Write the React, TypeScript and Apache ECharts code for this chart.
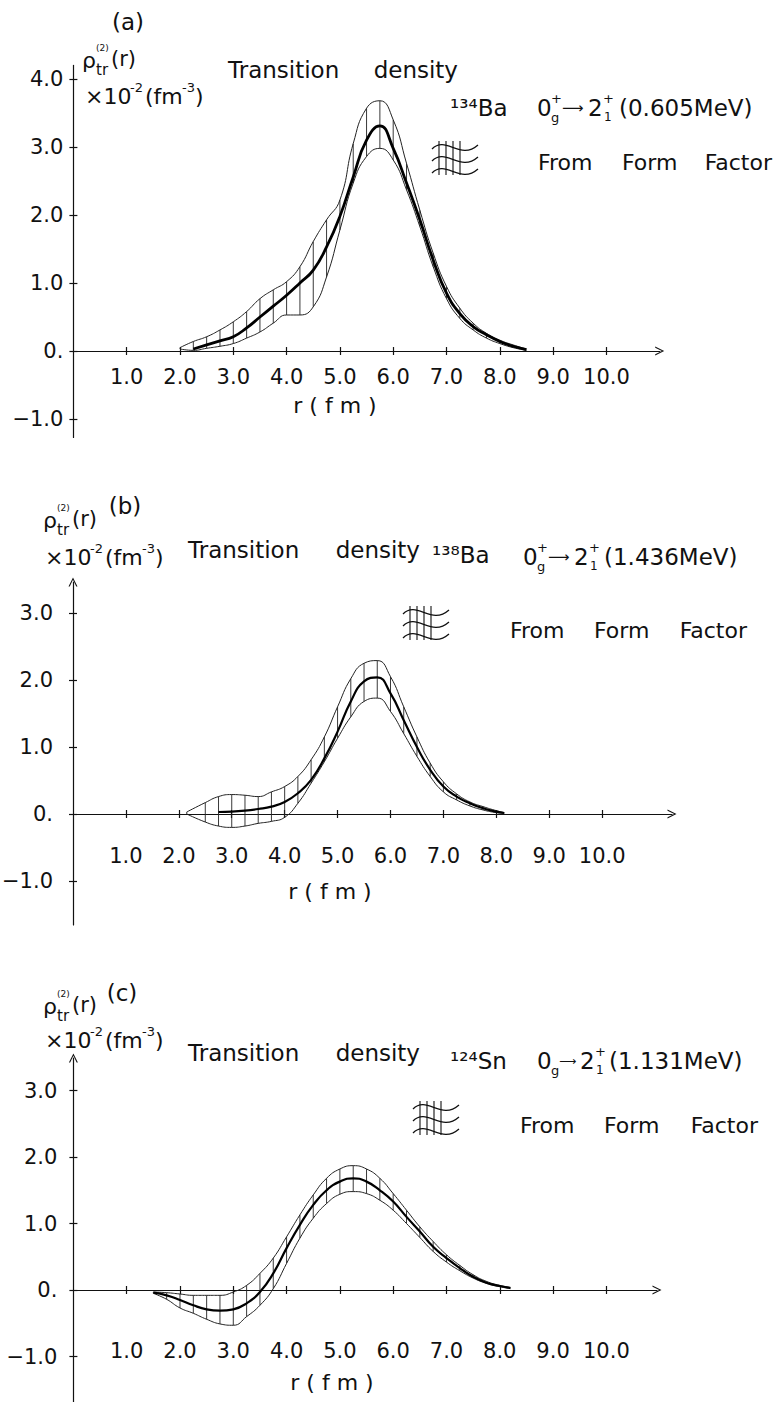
import React, { useEffect, useRef } from "react";
import * as echarts from "echarts";

// ---------- data (r in fm, rho in 10^-2 fm^-3) ----------
const X_TICKS = [1, 2, 3, 4, 5, 6, 7, 8, 9, 10];
const Y_TICKS_A = [-1, 0, 1, 2, 3, 4];
const Y_TICKS_BC = [-1, 0, 1, 2, 3];

// (a) 134Ba
const R_A = [2.0, 2.25, 2.5, 2.75, 3.0, 3.25, 3.5, 3.75, 4.0, 4.25, 4.5, 4.75, 5.0, 5.25, 5.5, 5.75, 6.0, 6.25, 6.5, 6.75, 7.0, 7.25, 7.5, 7.75, 8.0, 8.25, 8.5];
const A_UPPER = [0.05, 0.14, 0.21, 0.31, 0.43, 0.58, 0.77, 0.9, 1.02, 1.24, 1.61, 1.93, 2.22, 3.05, 3.57, 3.68, 3.4, 2.76, 2.07, 1.44, 0.95, 0.63, 0.41, 0.26, 0.16, 0.09, 0.03];
const A_CENTER = [null, 0.03, 0.09, 0.15, 0.21, 0.34, 0.5, 0.66, 0.82, 1.0, 1.19, 1.53, 1.98, 2.56, 3.1, 3.31, 2.98, 2.47, 1.93, 1.34, 0.85, 0.55, 0.36, 0.24, 0.14, 0.07, 0.02];
const A_LOWER = [0.03, 0.01, 0.04, 0.07, 0.11, 0.19, 0.28, 0.41, 0.53, 0.53, 0.65, 1.09, 1.78, 2.47, 2.86, 2.98, 2.81, 2.37, 1.83, 1.24, 0.77, 0.48, 0.31, 0.19, 0.11, 0.05, 0.01];

// (b) 138Ba
const R_B = [2.15, 2.5, 2.75, 3.0, 3.25, 3.5, 3.75, 4.0, 4.25, 4.5, 4.75, 5.0, 5.25, 5.5, 5.75, 6.0, 6.25, 6.5, 6.75, 7.0, 7.25, 7.5, 7.75, 8.0, 8.15];
const B_UPPER = [0.03, 0.17, 0.26, 0.29, 0.28, 0.26, 0.33, 0.41, 0.56, 0.81, 1.15, 1.6, 2.02, 2.25, 2.29, 2.05, 1.6, 1.15, 0.76, 0.48, 0.3, 0.18, 0.11, 0.05, 0.02];
const B_CENTER = [null, null, 0.03, 0.035, 0.05, 0.075, 0.11, 0.18, 0.31, 0.51, 0.83, 1.23, 1.68, 1.98, 2.04, 1.8, 1.4, 1.0, 0.66, 0.41, 0.26, 0.16, 0.085, 0.035, 0.015];
const B_LOWER = [0.0, -0.12, -0.18, -0.2, -0.18, -0.14, -0.11, -0.05, 0.16, 0.46, 0.78, 1.13, 1.45, 1.68, 1.73, 1.53, 1.2, 0.86, 0.56, 0.33, 0.21, 0.12, 0.06, 0.02, 0.01];

// (c) 124Sn
const R_C = [1.5, 1.75, 2.0, 2.25, 2.5, 2.75, 3.0, 3.25, 3.5, 3.75, 4.0, 4.25, 4.5, 4.75, 5.0, 5.25, 5.5, 5.75, 6.0, 6.25, 6.5, 6.75, 7.0, 7.25, 7.5, 7.75, 8.0, 8.2];
const C_UPPER = [-0.03, -0.04, -0.06, -0.08, -0.08, -0.08, -0.03, 0.07, 0.25, 0.48, 0.8, 1.13, 1.43, 1.68, 1.82, 1.87, 1.82, 1.68, 1.45, 1.2, 0.95, 0.73, 0.53, 0.37, 0.23, 0.13, 0.07, 0.04];
const C_CENTER = [-0.04, -0.08, -0.15, -0.23, -0.29, -0.31, -0.29, -0.2, -0.03, 0.25, 0.63, 0.98, 1.28, 1.5, 1.63, 1.68, 1.63, 1.5, 1.33, 1.1, 0.88, 0.65, 0.48, 0.33, 0.2, 0.11, 0.06, 0.03];
const C_LOWER = [-0.05, -0.14, -0.27, -0.35, -0.44, -0.51, -0.53, -0.4, -0.23, 0.02, 0.4, 0.78, 1.08, 1.3, 1.44, 1.48, 1.45, 1.35, 1.2, 1.0, 0.79, 0.58, 0.42, 0.29, 0.18, 0.1, 0.05, 0.02];

// ---------- styling ----------
const FONT = '"DejaVu Sans", sans-serif';
const INK = "#111";
const ARROW = "path://M5,0L10,10L8.6,10L5,2.6L1.4,10L0,10Z";

type Panel = {
  grid: { left: number; top: number; width: number; height: number };
  xMax: number;
  yMin: number;
  yMax: number;
  yTicks: number[];
  xMargin: number;
  yMargin: number;
  yArrow: boolean;
  r: number[];
  lo: (number | null)[];
  mid: (number | null)[];
  hi: (number | null)[];
  midWidth: number;
};

const PANELS: Panel[] = [
  { grid: { left: 73.4, top: 65.4, width: 586.3, height: 372 }, xMax: 11, yMin: -1.27, yMax: 4.2, yTicks: Y_TICKS_A, xMargin: 15, yMargin: 10, yArrow: false, r: R_A, lo: A_LOWER, mid: A_CENTER, hi: A_UPPER, midWidth: 2.8 },
  { grid: { left: 73, top: 582, width: 599, height: 343 }, xMax: 11.32, yMin: -1.657, yMax: 3.463, yTicks: Y_TICKS_BC, xMargin: 32, yMargin: 20, yArrow: true, r: R_B, lo: B_LOWER, mid: B_CENTER, hi: B_UPPER, midWidth: 2.2 },
  { grid: { left: 73.4, top: 1058, width: 583.6, height: 344 }, xMax: 10.95, yMin: -1.684, yMax: 3.489, yTicks: Y_TICKS_BC, xMargin: 50, yMargin: 16, yArrow: true, r: R_C, lo: C_LOWER, mid: C_CENTER, hi: C_UPPER, midWidth: 2.2 },
];

function txt(x: number, y: number, text: string, size: number, align = "left") {
  return {
    type: "text",
    x,
    y,
    silent: true,
    style: {
      text,
      fontSize: size,
      fontFamily: FONT,
      fill: INK,
      textAlign: align,
      textVerticalAlign: "middle",
      align,
      verticalAlign: "middle",
    },
  };
}

function rho(x: number, y: number) {
  return [
    txt(x, y, "ρ", 22),
    txt(x + 14, y - 12, "(2)", 9),
    txt(x + 14, y + 10, "tr", 15),
    txt(x + 29, y - 1, "(r)", 21),
  ];
}

function unitLabel(x: number, y: number) {
  return [
    txt(x, y, "×10", 22),
    txt(x + 45, y - 9, "-2", 13),
    txt(x + 60, y, "(fm", 22),
    txt(x + 97, y - 9, "-3", 13),
    txt(x + 110, y, ")", 22),
  ];
}

// d: [arrow x, arrow size, "2" x, sup/sub x, energy x]
function transition(x: number, y: number, energy: string, plusOnZero: boolean, d: number[]) {
  const out: any[] = [txt(x, y, "0", 23), txt(x + 14, y + 9, "g", 13)];
  if (plusOnZero) out.push(txt(x + 14, y - 10, "+", 13));
  out.push(
    txt(x + d[0], y, "⟶", d[1]),
    txt(x + d[2], y, "2", 23),
    txt(x + d[3], y - 10, "+", 13),
    txt(x + d[3] + 1, y + 9, "1", 12),
    txt(x + d[4], y, energy, 23)
  );
  return out;
}

function bandIcon(x0: number, y0: number) {
  const children: any[] = [];
  [4, 16, 28].forEach((dy) => {
    children.push({
      type: "bezierCurve",
      shape: { x1: 0, y1: dy + 4, cpx1: 14, cpy1: dy - 10, cpx2: 28, cpy2: dy + 16, x2: 46, y2: dy },
      style: { stroke: INK, lineWidth: 1.3, fill: null },
    });
  });
  [7, 14, 21, 28].forEach((dx) => {
    children.push({ type: "line", shape: { x1: dx, y1: 0, x2: dx, y2: 34 }, style: { stroke: INK, lineWidth: 1.1 } });
  });
  return { type: "group", x: x0, y: y0, silent: true, children };
}

function buildOption() {
  const grid: any[] = [];
  const xAxis: any[] = [];
  const yAxis: any[] = [];
  const series: any[] = [];

  PANELS.forEach((p, i) => {
    grid.push({ ...p.grid, containLabel: false, outerBoundsMode: "none" });
    const xi = 2 * i;
    const yi = 2 * i;
    const tickStyle = { color: INK, width: 1.2 };
    // distance from grid bottom to the y = 0 line
    const zeroFromBottom = (p.grid.height * (0 - p.yMin)) / (p.yMax - p.yMin);
    xAxis.push({
      type: "value", gridIndex: i, min: 0, max: p.xMax, position: "bottom", offset: -zeroFromBottom,
      axisLine: { show: true, onZero: false, symbol: ["none", ARROW], symbolSize: [9, 12], lineStyle: { color: INK, width: 1.2 } },
      axisTick: { show: true, length: 4, customValues: X_TICKS, lineStyle: tickStyle },
      axisLabel: { show: true, customValues: X_TICKS, margin: p.xMargin, color: INK, fontSize: 21, fontFamily: FONT, formatter: (v: number) => v.toFixed(1) },
      splitLine: { show: false },
    });
    xAxis.push({
      type: "value", gridIndex: i, min: 0, max: p.xMax, position: "top", offset: -(p.grid.height - zeroFromBottom),
      axisLine: { show: false, onZero: false },
      axisTick: { show: true, length: 4, customValues: X_TICKS, lineStyle: tickStyle },
      axisLabel: { show: false },
      splitLine: { show: false },
    });
    yAxis.push({
      type: "value", gridIndex: i, min: p.yMin, max: p.yMax, position: "left",
      axisLine: { show: true, onZero: false, symbol: p.yArrow ? ["none", ARROW] : "none", symbolSize: [9, 12], lineStyle: { color: INK, width: 1.2 } },
      axisTick: { show: true, length: 4, customValues: p.yTicks, lineStyle: tickStyle },
      axisLabel: {
        show: true, customValues: p.yTicks, margin: p.yMargin, color: INK, fontSize: 21, fontFamily: FONT,
        formatter: (v: number) => (v === 0 ? "0." : v < 0 ? "−" + Math.abs(v).toFixed(1) : v.toFixed(1)),
      },
      splitLine: { show: false },
    });
    yAxis.push({
      type: "value", gridIndex: i, min: p.yMin, max: p.yMax, position: "right", offset: -p.grid.width,
      axisLine: { show: false, onZero: false },
      axisTick: { show: true, length: 4, customValues: p.yTicks, lineStyle: tickStyle },
      axisLabel: { show: false },
      splitLine: { show: false },
    });

    const hatch: number[][] = [];
    p.r.forEach((r, k) => {
      const lo = p.lo[k];
      const hi = p.hi[k];
      if (lo != null && hi != null && hi - lo > 0.02) hatch.push([r, lo, hi]);
    });
    series.push({
      type: "custom", xAxisIndex: xi, yAxisIndex: yi, silent: true,
      data: hatch, encode: { x: 0, y: [1, 2] },
      renderItem: (_params: any, api: any) => {
        const a = api.coord([api.value(0), api.value(1)]);
        const b = api.coord([api.value(0), api.value(2)]);
        return { type: "line", shape: { x1: a[0], y1: a[1], x2: b[0], y2: b[1] }, style: { stroke: "#222", lineWidth: 0.9 } };
      },
    });
    const line = (vals: (number | null)[], width: number, color: string) => ({
      type: "line", xAxisIndex: xi, yAxisIndex: yi, silent: true, symbol: "none", smooth: 0.5,
      data: p.r.map((r, k) => [r, vals[k] == null ? null : vals[k]]),
      lineStyle: { color, width },
    });
    series.push(line(p.hi, 1, "#222"));
    series.push(line(p.lo, 1, "#222"));
    series.push(line(p.mid, p.midWidth, "#000"));
  });

  const graphic: any[] = [
    // (a)
    txt(128, 22, "(a)", 23, "center"),
    ...rho(82, 60),
    ...unitLabel(85, 96),
    txt(228, 70, "Transition", 23),
    txt(458, 70, "density", 23, "right"),
    txt(450, 108, "¹³⁴Ba", 23),
    ...transition(537, 108, "(0.605MeV)", true, [25, 15, 51, 66, 82]),
    bandIcon(432, 141),
    txt(538, 162, "From", 22),
    txt(622, 162, "Form", 22),
    txt(772, 162, "Factor", 22, "right"),
    txt(335, 405, "r ( f m )", 22, "center"),
    // (b)
    txt(125, 506, "(b)", 23, "center"),
    ...rho(43, 520),
    ...unitLabel(45, 557),
    txt(188, 550, "Transition", 23),
    txt(420, 550, "density", 23, "right"),
    txt(432, 555, "¹³⁸Ba", 23),
    ...transition(523, 557, "(1.436MeV)", true, [25, 15, 51, 66, 81]),
    bandIcon(403, 606),
    txt(510, 630, "From", 22),
    txt(594, 630, "Form", 22),
    txt(747, 630, "Factor", 22, "right"),
    txt(330, 891, "r ( f m )", 22, "center"),
    // (c)
    txt(122, 993, "(c)", 23, "center"),
    ...rho(43, 1006),
    ...unitLabel(45, 1040),
    txt(188, 1053, "Transition", 23),
    txt(420, 1053, "density", 23, "right"),
    txt(450, 1061, "¹²⁴Sn", 23),
    ...transition(537, 1061, "(1.131MeV)", false, [22, 12, 43, 58, 72]),
    bandIcon(413, 1101),
    txt(520, 1125, "From", 22),
    txt(604, 1125, "Form", 22),
    txt(758, 1125, "Factor", 22, "right"),
    txt(332, 1382, "r ( f m )", 22, "center"),
  ];

  return {
    animation: false,
    backgroundColor: "#fff",
    textStyle: { fontFamily: FONT },
    grid,
    xAxis,
    yAxis,
    series,
    graphic,
  };
}

export default function App() {
  const ref = useRef<HTMLDivElement>(null);
  useEffect(() => {
    if (!ref.current) return;
    const chart = echarts.init(ref.current, null, { renderer: "svg" });
    chart.setOption(buildOption() as any);
    return () => chart.dispose();
  }, []);
  return <div ref={ref} style={{ position: "absolute", left: 0, top: 0, width: 781, height: 1402, background: "#fff" }} />;
}
